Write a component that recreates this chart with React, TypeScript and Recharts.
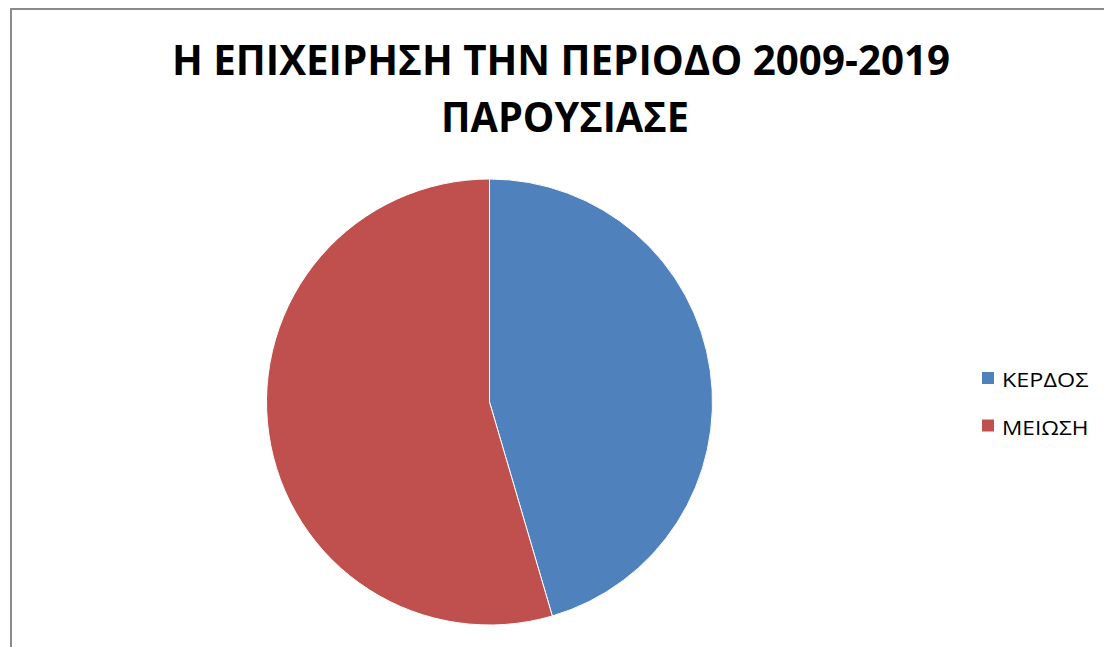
import React from 'react';
import { PieChart, Pie, Cell, Legend } from 'recharts';

const categories = ['ΚΕΡΔΟΣ', 'ΜΕΙΩΣΗ'];
const values = [5, 6];
const colors = ['#4F81BD', '#C0504D'];
const titleLines = ['Η ΕΠΙΧΕΙΡΗΣΗ ΤΗΝ ΠΕΡΙΟΔΟ 2009-2019', 'ΠΑΡΟΥΣΙΑΣΕ'];

const data = categories.map((name, i) => ({ name, value: values[i] }));

const FONT = '"Open Sans", "Noto Sans", "DejaVu Sans", sans-serif';

const renderLegend = (props: any) => {
  const payload = props.payload || [];
  return (
    <svg width={130} height={100} style={{ display: 'block' }}>
      {payload.map((entry: any, i: number) => (
        <g key={i} transform={`translate(0, ${i * 47.5})`}>
          <rect x={4} y={14} width={12} height={12} fill={entry.color} />
          <text x={24} y={29} fontFamily={FONT} fontSize={20.5} fill="#000" textLength={entry.value.length * 14.4} lengthAdjust="spacingAndGlyphs">
            {entry.value}
          </text>
        </g>
      ))}
    </svg>
  );
};

export default function App() {
  return (
    <div style={{ position: 'relative', width: 1104, height: 639, fontFamily: FONT, background: '#fff' }}>
      <div
        style={{
          position: 'absolute',
          left: 2,
          top: 0,
          width: 1102,
          height: 639,
          borderTop: '2px solid #8a8a8a',
          borderLeft: '2px solid #8a8a8a',
          boxSizing: 'border-box',
        }}
      />
      <div style={{ position: 'absolute', left: 0, top: 0 }}>
        <PieChart width={1104} height={639} margin={{ top: 0, right: 0, bottom: 0, left: 0 }}>
          <Pie
            data={data}
            dataKey="value"
            nameKey="name"
            cx={481.5}
            cy={394}
            outerRadius={223}
            startAngle={90}
            endAngle={-270}
            stroke="#ffffff"
            strokeWidth={1}
            isAnimationActive={false}
          >
            {data.map((d, i) => (
              <Cell key={d.name} fill={colors[i]} />
            ))}
          </Pie>
          <Legend
            layout="vertical"
            align="right"
            verticalAlign="middle"
            content={renderLegend}
            wrapperStyle={{ position: 'absolute', left: 970, top: 350, width: 130, height: 100 }}
          />
        </PieChart>
      </div>
      <svg width={1104} height={150} style={{ position: 'absolute', left: 0, top: 0, pointerEvents: 'none' }}>
        <text x={553} y={67} textAnchor="middle" fontFamily={FONT} fontWeight="bold" fontSize={41} fill="#000" textLength={778} lengthAdjust="spacingAndGlyphs">
          {titleLines[0]}
        </text>
        <text x={557} y={124} textAnchor="middle" fontFamily={FONT} fontWeight="bold" fontSize={41} fill="#000" textLength={248} lengthAdjust="spacingAndGlyphs">
          {titleLines[1]}
        </text>
      </svg>
    </div>
  );
}
